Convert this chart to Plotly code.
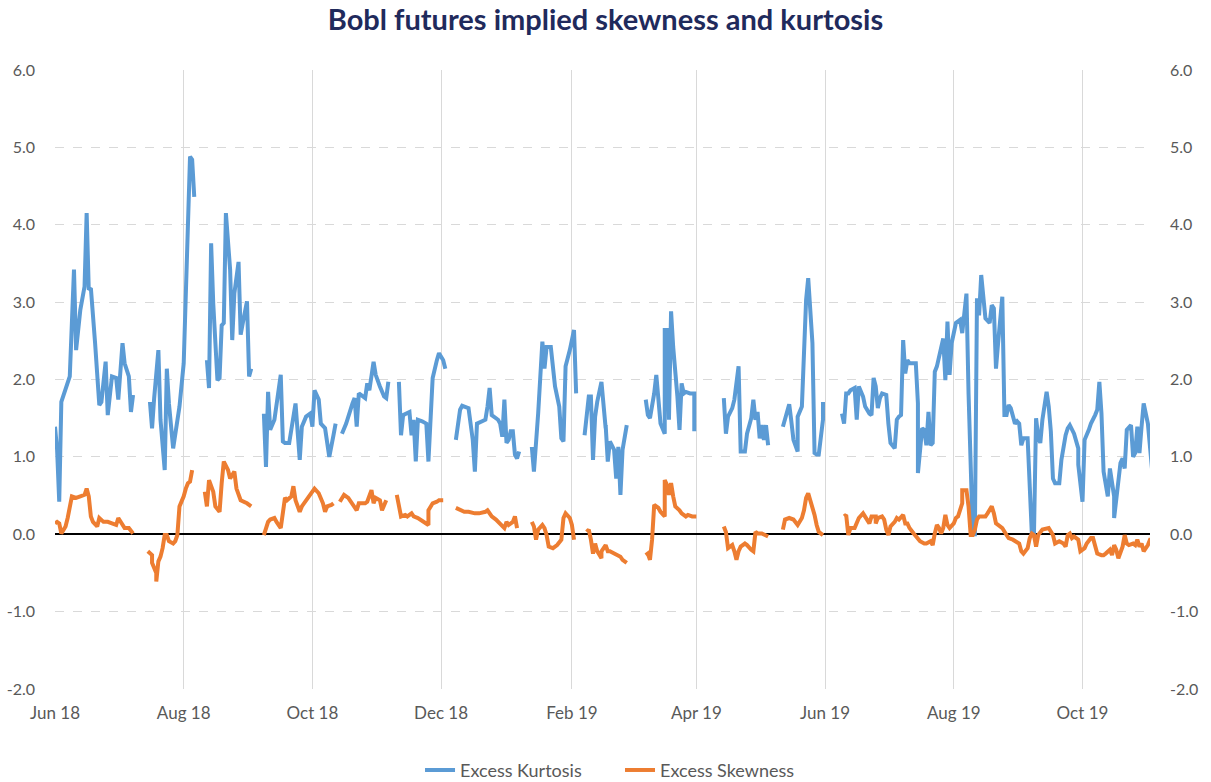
import datetime as dt
import plotly.graph_objects as go

TITLE = "Bobl futures implied skewness and kurtosis"
START = dt.date(2018, 6, 1)

# days since 1 Jun 2018; None marks a gap in the series
kurt_days = [
    0, 1, 2, 3, 7, 9, 10, 12, 14, 15, 16, 17, 19, 21, 22, 24, 25, 26, 27, 29, 30, 32, 33, 35, 36, 37, None,
    45, 46, 47, 49, 50, 52, 53, 54, 56, 58, 59, 61, 62, 63, 64, 65, 66, None,
    72, 73, 74, 75, 77, 78, 79, 80, 81, 83, 84, 85, 87, 88, 89, 91, 92, 93, None,
    99, 100, 101, 102, 104, 105, 107, 108, 109, 111, 113, 114, 116, 117, 119, 121, 122, 123, 125, 126, 128,
    129, 130, 132, 133, None,
    136, 138, 141, 142, 143, 144, 145, 147, 148, 149, 151, 152, 154, 156, 157, 158, None,
    163, 164, 165, 167, 168, 169, 170, 171, 172, 174, 176, 177, 178, 179, 181, 182, 184, 185, None,
    190, 192, 193, 196, 198, 199, 200, 202, 204, 205, 206, 207, 210, 211, 212, 213, 214, 215, 216, 217, 218,
    219, 220, None,
    226, 227, 229, 230, 231, 232, 233, 235, 236, 237, 239, 240, 241, 242, 244, 246, 247, None,
    251.9, 253.4, 254.7, 255.5, 256.3, 257.9, 259.5, 260.3, 261.1, 261.8, 262.6, 263.7, 265.0, 266.3, 267.4,
    268.2, 268.8, 269.8, 271.4, None,
    280.0, 281.6, 282.9, 284.0, 285.3, 286.4, 287.9, 289.1, 289.7, 290.7, 291.1, 292.2, 293.5, 295.1, 296.2,
    297.5, 298.6, 299.8, 301.4, 303.3, 303.9, None,
    317.3, 318.1, 319.6, 321.2, 322.8, 324.4, 325.5, 327.1, 328.7, 330.0, 331.1, 332.3, 333.1, 334.4, 335.6,
    336.6, 337.5, 338.2, None,
    345.8, 347.0, 348.1, 349.2, 350.5, 352.1, 352.9, 354.0, 355.3, 356.8, 357.8, 358.7, 359.7, 360.8, 361.9,
    362.8, 364.0, 364.8, None,
    373.5, 374.6, 375.5, 376.6, 377.8, 379.0, 380.1, 381.4, 383.0, 384.6, 386.1, 387.4, 388.2, 389.3, 390.4,
    391.7, 392.9, 394.5, 395.6, 396.9, 398.0, 399.3, 400.4, 401.5, 402.0, 403.1, 404.0, 405.9, 408.3, 409.1,
    409.9, 411.0, 412.3, 413.4, 414.6, 415.4, 416.5, 417.0, 418.6, 419.7, 421.0, 422.1, 423.4, 424.1, 425.7,
    427.3, 429.4, 430.5, 432.1, 433.2, 434.4, 435.6, 436.5, 437.1, 438.4, 439.5, 440.8, 441.9, 443.2, 444.3,
    445.2, 446.6, 447.9, 449.0, 450.3, 451.4, 452.3, 453.9, 455.4, 456.6, 457.7, 458.6, 459.8, 461.1, 462.1,
    463.3, 464.5, 465.3, 466.4, 467.2, 468.5, 470.1, 471.2, 472.4, 473.2, 474.5, 476.4, 477.5, 479.1, 480.4,
    481.9, 483.5, 485.1, 485.9, 487.0, 488.6, 490.2, 491.8, 493.0, 494.3, 495.4, 496.5, 497.8, 499.8, 500.9,
    502.0, 502.9, 504.1, 505.4, 506.5, 507.3, 508.6, 510.0, 511.2, 512.4, 513.6, 514.7, 515.7, 516.8, 518.1,
    519.2, 520.4,
]
kurtosis = [
    1.39, 1.09, 0.42, 1.71, 2.04, 3.42, 2.38, 2.90, 3.20, 4.15, 3.16, 3.18, 2.47, 1.67, 1.71, 2.23, 1.54, 1.82,
    2.04, 2.02, 1.74, 2.47, 2.21, 2.04, 1.58, 1.80, None,
    1.71, 1.37, 1.76, 2.38, 1.48, 0.83, 2.14, 1.69, 1.11, 1.52, 1.65, 2.21, 3.16, 4.36, 4.88, 4.84, 4.36, None,
    2.25, 1.89, 3.76, 2.98, 1.99, 2.02, 2.70, 2.73, 4.15, 3.42, 2.51, 3.11, 3.52, 2.58, 2.73, 3.01, 2.04, 2.14, None,
    1.56, 0.87, 1.84, 1.35, 1.48, 1.65, 2.06, 1.20, 1.18, 1.18, 1.48, 1.69, 0.96, 1.39, 1.52, 1.56, 1.39, 1.86,
    1.74, 1.43, 1.37, 1.20, 1.00, 1.28, 1.43, None,
    1.30, 1.43, 1.69, 1.76, 1.39, 1.82, 1.80, 1.76, 1.95, 1.86, 2.23, 2.06, 1.91, 1.78, 1.76, 1.97, None,
    1.97, 1.28, 1.54, 1.56, 1.58, 1.28, 1.48, 0.94, 1.48, 1.46, 1.43, 0.94, 1.43, 2.02, 2.25, 2.34, 2.25, 2.14, None,
    1.22, 1.61, 1.66, 1.63, 1.22, 0.81, 1.43, 1.46, 1.48, 1.65, 1.89, 1.54, 1.48, 1.43, 1.26, 1.74, 1.18, 1.22,
    1.33, 1.33, 1.03, 0.98, 1.07, None,
    1.13, 0.81, 1.56, 2.12, 2.49, 2.14, 2.42, 2.42, 2.12, 1.91, 1.65, 1.24, 1.20, 2.17, 2.38, 2.64, 1.82, None,
    1.28, 1.78, 1.78, 0.96, 1.52, 1.71, 1.97, 1.69, 1.37, 1.41, 0.94, 1.20, 1.09, 0.72, 1.13, 0.66, 0.51, 1.09,
    1.41, None,
    1.74, 1.54, 1.50, 1.82, 2.06, 1.78, 1.43, 1.30, 2.64, 2.64, 1.48, 2.88, 2.42, 1.78, 1.35, 1.95, 1.82, 1.84,
    1.82, 1.82, 1.33, None,
    1.76, 1.30, 1.52, 1.63, 1.74, 2.17, 1.07, 1.07, 1.30, 1.50, 1.74, 1.48, 1.58, 1.24, 1.41, 1.22, 1.41, 1.15, None,
    1.39, 1.61, 1.68, 1.46, 1.22, 1.07, 1.52, 1.65, 2.42, 3.03, 3.31, 2.90, 2.47, 1.05, 1.03, 1.03, 1.48, 1.71, None,
    1.56, 1.43, 1.82, 1.82, 1.86, 1.89, 1.48, 1.91, 1.78, 1.65, 1.56, 1.54, 2.02, 1.91, 1.63, 1.76, 1.82, 1.80,
    1.43, 1.18, 1.11, 1.48, 1.52, 1.54, 2.51, 2.08, 2.25, 2.21, 2.21, 1.69, 0.79, 1.37, 1.35, 1.15, 1.58, 1.15,
    1.18, 2.10, 2.17, 2.30, 2.53, 1.99, 2.75, 2.06, 2.47, 2.73, 2.77, 2.60, 3.11, 1.82, 0.90, 0.00, 0.00, 3.05,
    2.83, 3.35, 3.07, 2.79, 2.73, 2.96, 2.92, 2.14, 2.47, 3.07, 1.54, 1.54, 1.67, 1.63, 1.43, 1.46, 1.43, 1.15,
    1.24, 1.24, 0.62, 0.00, 0.00, 1.50, 1.26, 1.18, 1.48, 1.84, 1.65, 1.33, 0.72, 0.66, 0.66, 0.96, 1.28, 1.37,
    1.41, 1.30, 1.11, 0.90, 0.42, 1.22, 1.35, 1.43, 1.54, 1.61, 1.97, 1.56, 0.81, 0.49, 0.85, 0.49, 0.21, 0.66,
    0.92, 0.98, 0.85, 1.35, 1.41, 1.00, 1.05, 1.39, 1.05, 1.39, 1.69, 1.43, 1.13, 0.83,
]

skew_days = [
    0, 1.3, 2.5, 3.7, 5.3, 6.9, 8.5, 10.1, 12.4, 14.0, 15.3, 16.4, 17.5, 18.8, 20.3, 21.9, 23.2, 25.1, 27.5,
    29.1, 30.6, 32.2, 33.8, 35.7, 37.8, None,
    44.9, 46.0, 46.9, 48.1, 48.9, 49.7, 50.8, 51.5, 52.5, 53.3, 54.4, 56.0, 57.6, 58.8, 59.5, 61.0, 62.3, 63.4,
    64.4, 65.5, None,
    71.8, 72.6, 73.7, 75.0, 76.6, 78.1, 79.4, 80.5, 82.1, 83.7, 85.3, 86.9, 88.0, 90.0, 91.6, 93.5, None,
    99.5, 100.3, 101.1, 102.7, 104.3, 105.9, 107.4, 109.0, 110.6, 112.2, 113.8, 114.9, 116.1, 117.7, 119.3,
    120.9, 123.3, 125.3, 127.2, 128.5, 129.6, 131.2, 132.8, None,
    135.9, 137.5, 139.9, 141.5, 143.1, 144.7, 147.0, 148.6, 150.2, 151.3, 152.6, 154.2, 155.7, 157.3, None,
    162.6, 164.5, 166.0, 167.6, 169.2, 170.8, 172.4, 173.9, 175.5, 177.1, 177.9, 179.0, 181.1, 182.7, 184.7, None,
    190.5, 192.1, 194.5, 196.9, 199.3, 201.7, 204.0, 205.6, 207.2, 209.6, 211.9, 213.5, 214.7, 215.9, 217.5,
    218.6, 219.9, None,
    226.5, 227.4, 228.6, 229.9, 231.0, 232.1, 233.3, 234.6, 236.5, 238.9, 240.5, 241.7, 242.8, 244.4, 245.7,
    246.8, None,
    252.3, 253.9, 254.7, 255.5, 256.6, 257.9, 259.0, 259.9, 261.1, 262.2, 263.7, 265.3, 266.9, 268.5, 269.8,
    271.4, None,
    280.0, 281.6, 282.7, 283.7, 284.8, 286.4, 287.9, 289.1, 289.7, 290.7, 291.6, 292.4, 293.5, 294.8, 296.4,
    297.5, 299.1, 300.6, 302.2, 304.1, None,
    317.3, 318.4, 319.6, 321.2, 322.3, 323.3, 324.4, 325.6, 327.1, 328.7, 330.0, 331.2, 332.3, 333.9, 335.5,
    337.1, 338.2, None,
    345.8, 346.1, 348.1, 350.1, 352.1, 354.0, 355.3, 356.5, 357.8, 358.7, 360.0, 361.3, 362.8, 364.8, None,
    374.3, 375.1, 376.2, 377.4, 379.3, 380.9, 381.9, 383.0, 384.6, 385.7, 386.9, 387.7, 389.0, 389.8, 390.9,
    392.2, 393.3, 394.5, 395.6, 396.9, 398.3, 399.6, 400.9, 402.0, 403.1, 404.4, 405.9, 407.5, 409.1, 410.7,
    412.3, 413.9, 415.4, 416.2, 417.4, 418.3, 419.4, 420.2, 421.5, 422.6, 423.7, 424.9, 426.2, 427.3, 428.9,
    430.0, 430.9, 432.1, 433.2, 434.4, 435.6, 436.5, 437.6, 438.9, 440.5, 441.6, 442.7, 444.0, 445.1, 446.3,
    447.9, 449.5, 451.1, 452.6, 454.2, 455.8, 457.1, 458.5, 459.8, 461.1, 462.1, 463.3, 464.5, 465.6, 466.9,
    468.5, 470.1, 471.6, 473.2, 474.8, 476.4, 478.0, 479.3, 480.4, 481.5, 482.4, 483.5, 485.1, 486.7, 488.3,
    489.9, 491.5, 492.7, 493.8, 494.9, 496.2, 497.8, 498.9, 500.2, 501.3, 502.5, 503.7, 504.9, 506.0, 507.3,
    508.6, 509.7, 511.2, 512.4, 513.6, 514.7, 515.7, 516.8, 518.1, 519.2, 520.4,
]
skewness = [
    0.14, 0.16, 0.14, 0.01, 0.10, 0.21, 0.49, 0.47, 0.49, 0.51, 0.59, 0.49, 0.23, 0.16, 0.10, 0.21, 0.16, 0.16,
    0.14, 0.12, 0.21, 0.12, 0.08, 0.08, 0.01, None,
    -0.22, -0.27, -0.37, -0.50, -0.61, -0.35, -0.29, -0.18, -0.01, -0.01, -0.09, -0.12, -0.09, -0.01, 0.36,
    0.49, 0.59, 0.66, 0.68, 0.83, None,
    0.55, 0.36, 0.70, 0.55, 0.36, 0.29, 0.66, 0.94, 0.83, 0.72, 0.81, 0.59, 0.44, 0.42, 0.40, 0.36, None,
    -0.01, 0.06, 0.16, 0.19, 0.21, 0.16, 0.08, 0.47, 0.44, 0.49, 0.62, 0.44, 0.29, 0.36, 0.44, 0.49, 0.59,
    0.53, 0.40, 0.29, 0.36, 0.38, 0.40, None,
    0.42, 0.51, 0.47, 0.40, 0.31, 0.40, 0.40, 0.42, 0.57, 0.40, 0.47, 0.44, 0.31, 0.44, None,
    0.51, 0.23, 0.25, 0.23, 0.27, 0.23, 0.21, 0.19, 0.16, 0.12, 0.31, 0.40, 0.42, 0.44, 0.44, None,
    0.34, 0.31, 0.29, 0.29, 0.27, 0.27, 0.29, 0.31, 0.23, 0.19, 0.14, 0.08, 0.16, 0.12, 0.16, 0.23, 0.08, None,
    0.16, 0.10, -0.07, 0.06, 0.12, 0.08, -0.01, -0.16, -0.18, -0.14, -0.07, 0.21, 0.27, 0.21, 0.12, -0.07, None,
    0.03, 0.06, -0.07, -0.25, -0.12, -0.22, -0.31, -0.22, -0.14, -0.22, -0.22, -0.25, -0.27, -0.29, -0.33,
    -0.37, None,
    -0.27, -0.25, -0.33, -0.07, 0.38, 0.34, 0.29, 0.23, 0.70, 0.64, 0.51, 0.66, 0.49, 0.36, 0.31, 0.27, 0.23,
    0.25, 0.23, 0.23, None,
    0.10, 0.03, -0.18, -0.14, -0.22, -0.33, -0.22, -0.16, -0.12, -0.14, -0.20, -0.22, 0.03, 0.01, 0.01, -0.01,
    -0.03, None,
    0.06, 0.19, 0.21, 0.19, 0.12, 0.21, 0.31, 0.47, 0.53, 0.44, 0.25, 0.12, 0.03, -0.01, None,
    0.23, 0.25, -0.01, 0.08, 0.08, 0.14, 0.21, 0.27, 0.23, 0.19, 0.14, 0.23, 0.23, 0.14, 0.21, 0.23, 0.19, 0.06,
    -0.01, 0.10, 0.16, 0.21, 0.19, 0.25, 0.14, 0.14, 0.08, 0.01, -0.05, -0.09, -0.12, -0.12, -0.09, -0.14, 0.01,
    0.12, 0.08, 0.01, 0.08, 0.25, 0.12, 0.08, 0.14, 0.21, 0.23, 0.40, 0.57, 0.57, 0.36, -0.01, -0.01, 0.06, 0.19,
    0.23, 0.23, 0.23, 0.27, 0.36, 0.27, 0.14, 0.12, 0.08, -0.01, -0.05, -0.07, -0.09, -0.12, -0.22, -0.25, -0.18,
    -0.05, 0.01, -0.01, -0.16, -0.01, 0.06, 0.08, 0.08, -0.01, -0.12, -0.09, -0.12, -0.16, -0.01, 0.01, -0.05,
    -0.03, -0.07, -0.22, -0.18, -0.12, -0.05, -0.05, -0.16, -0.25, -0.27, -0.27, -0.25, -0.20, -0.27, -0.14,
    -0.20, -0.31, -0.16, -0.01, -0.12, -0.14, -0.12, -0.14, -0.07, -0.16, -0.12, -0.22, -0.14, -0.07, -0.07,
]

y_ticks = [-2, -1, 0, 1, 2, 3, 4, 5, 6]
y_labels = [f"{v:.1f}" for v in y_ticks]


def to_dates(days):
    return [None if d is None else START + dt.timedelta(days=d) for d in days]


FONT = "Lato, 'Liberation Sans', sans-serif"
GREY = "#595959"
GRID = "#D9D9D9"

fig = go.Figure()
fig.add_trace(go.Scatter(
    x=to_dates(kurt_days), y=kurtosis, name="Excess Kurtosis", mode="lines",
    line=dict(color="#5B9BD5", width=4), connectgaps=False,
))
fig.add_trace(go.Scatter(
    x=to_dates(skew_days), y=skewness, name="Excess Skewness", mode="lines", yaxis="y2",
    line=dict(color="#ED7D31", width=4), connectgaps=False,
))

fig.update_layout(
    width=1211, height=782,
    paper_bgcolor="white", plot_bgcolor="white",
    font=dict(family=FONT, color=GREY, size=16),
    margin=dict(l=55, r=61, t=70, b=93, autoexpand=False),
    title=dict(text="<b>" + TITLE + "</b>", x=0.5, xanchor="center",
               yref="container", y=0.974, yanchor="middle",
               font=dict(family=FONT, size=29, color="#1F2A5C")),
    showlegend=True,
    legend=dict(orientation="h", x=0.516, xanchor="center", yref="container", y=0.015,
                yanchor="middle", font=dict(size=18, color=GREY), bgcolor="rgba(0,0,0,0)",
                entrywidth=155, entrywidthmode="pixels"),
    xaxis=dict(
        type="date", automargin=False,
        range=[START, START + dt.timedelta(days=519)],
        tick0="2018-06-01", dtick="M2", tickformat="%b %y",
        showgrid=True, gridcolor=GRID, gridwidth=1.2,
        showline=False, zeroline=False, ticks="", ticklabelstandoff=12,
        tickfont=dict(size=17, color=GREY),
    ),
    yaxis=dict(
        range=[-2, 6], tickvals=y_ticks, ticktext=y_labels, automargin=False,
        showgrid=True, gridcolor=GRID, griddash="dash", gridwidth=1,
        zeroline=True, zerolinecolor="black", zerolinewidth=1.5,
        showline=False, ticks="", ticklabelstandoff=19,
        tickfont=dict(size=16, color=GREY),
    ),
    yaxis2=dict(
        range=[-2, 6], tickvals=y_ticks, ticktext=y_labels, automargin=False,
        overlaying="y", side="right", showgrid=False, zeroline=False,
        showline=False, ticks="", ticklabelstandoff=19,
        tickfont=dict(size=16, color=GREY),
    ),
)

# the page's default body margin would push the chart 8px off the window
fig.write_html("out.html", config={"displayModeBar": False},
               post_script="document.body.style.margin = '0';")
